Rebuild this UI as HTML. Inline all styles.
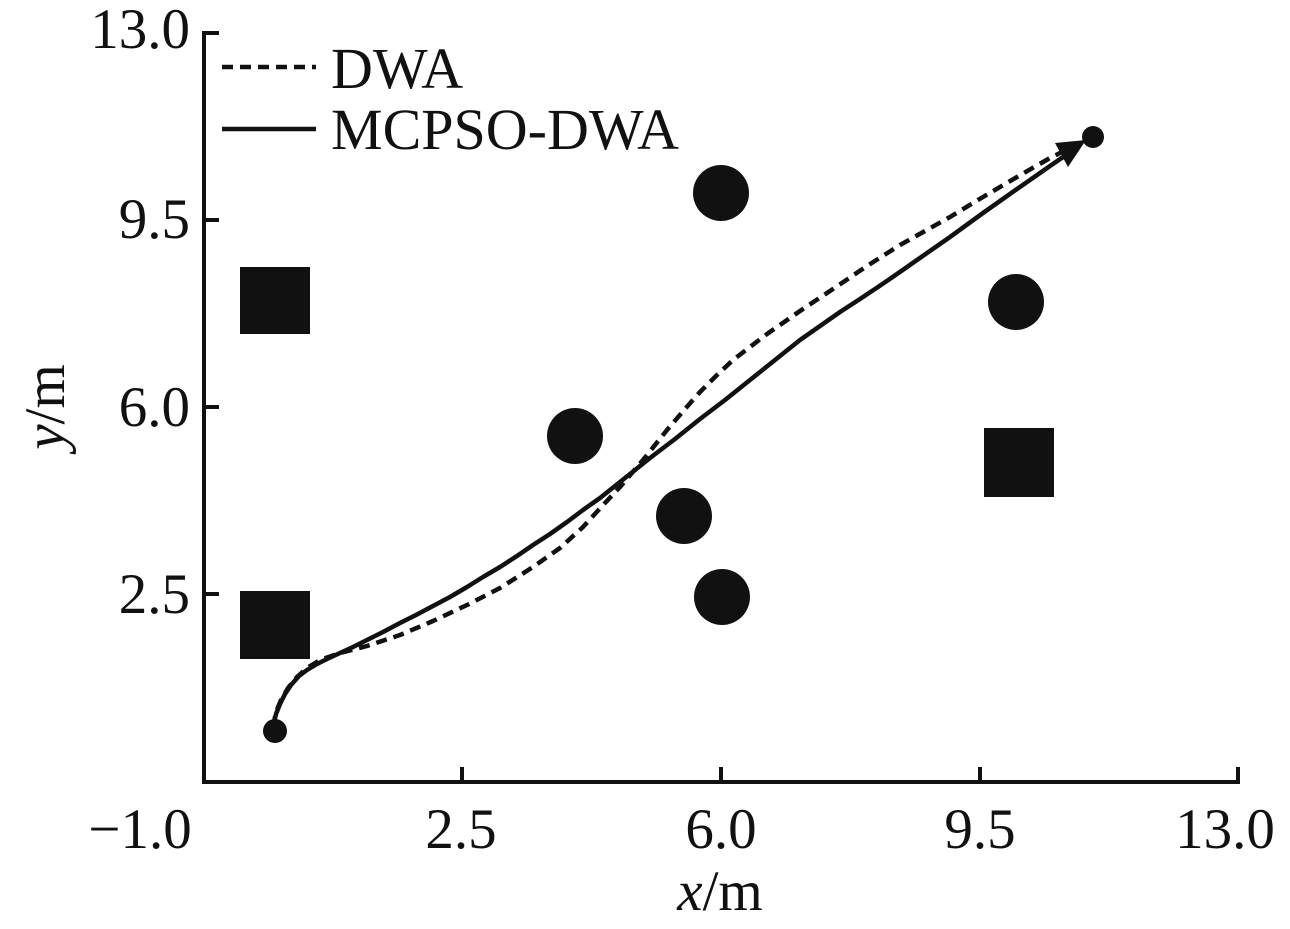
<!DOCTYPE html>
<html>
<head>
<meta charset="utf-8">
<style>
  html,body{margin:0;padding:0;background:#fff;}
  svg{display:block;}
  text{font-family:"Liberation Serif","Times New Roman",serif;fill:#111;}
</style>
</head>
<body>
<svg width="1290" height="929" viewBox="0 0 1290 929" xmlns="http://www.w3.org/2000/svg">
  <rect width="1290" height="929" fill="#fff"/>

  <!-- axes -->
  <g stroke="#111" stroke-width="4" fill="none" stroke-linecap="butt">
    <path d="M219,33 H204 V782 H1238 V767"/>
    <line x1="204" y1="220" x2="219" y2="220"/>
    <line x1="204" y1="407" x2="219" y2="407"/>
    <line x1="204" y1="594" x2="219" y2="594"/>
    <line x1="462" y1="782" x2="462" y2="767"/>
    <line x1="721" y1="782" x2="721" y2="767"/>
    <line x1="980" y1="782" x2="980" y2="767"/>
  </g>

  <!-- y tick labels -->
  <g font-size="57" text-anchor="end">
    <text x="190" y="48">13.0</text>
    <text x="190" y="238">9.5</text>
    <text x="190" y="426">6.0</text>
    <text x="190" y="613">2.5</text>
  </g>
  <!-- x tick labels -->
  <g font-size="57" text-anchor="middle">
    <text x="140" y="848">−1.0</text>
    <text x="461" y="848">2.5</text>
    <text x="721" y="848">6.0</text>
    <text x="980" y="848">9.5</text>
    <text x="1225" y="848">13.0</text>
  </g>

  <!-- axis titles -->
  <text x="720" y="910" font-size="57" text-anchor="middle"><tspan font-style="italic">x</tspan>/m</text>
  <text transform="translate(64,407) rotate(-90)" font-size="57" text-anchor="middle"><tspan font-style="italic">y</tspan>/m</text>

  <!-- legend -->
  <line x1="222" y1="67" x2="316" y2="67" stroke="#111" stroke-width="4.5" stroke-dasharray="11 7"/>
  <text x="331" y="88" font-size="58">DWA</text>
  <line x1="222" y1="129" x2="316" y2="129" stroke="#111" stroke-width="4.5"/>
  <text x="331" y="149" font-size="58">MCPSO-DWA</text>

  <!-- obstacles -->
  <g fill="#111">
    <rect x="240" y="267" width="70" height="67"/>
    <rect x="240" y="591" width="70" height="68"/>
    <rect x="984" y="428" width="70" height="69"/>
    <circle cx="721" cy="193" r="28"/>
    <circle cx="575" cy="436" r="28"/>
    <circle cx="684" cy="516" r="28"/>
    <circle cx="722" cy="597" r="28"/>
    <circle cx="1016" cy="302" r="28"/>
    <circle cx="275" cy="731" r="12"/>
    <circle cx="1093" cy="137" r="11"/>
  </g>

  <!-- DWA (dashed) -->
  <polyline fill="none" stroke="#111" stroke-width="4.5" stroke-dasharray="11 7" stroke-linejoin="round"
    points="273,727 276,712 281,700 288,688 297,677 307,668 320,660 340,653 367,646 400,635 433,621 467,605 500,588 533,567 560,548 583,527 605,503 620,487 643,460 667,430 685,409 700,392 717,375 733,360 767,334 800,311 833,289 867,266 900,245 950,217 983,197 1017,177 1050,158 1068,149"/>

  <!-- MCPSO-DWA (solid) -->
  <polyline fill="none" stroke="#111" stroke-width="4.5" stroke-linejoin="round"
    points="273,727 276,714 280,704 285,694 291,685 299,676 307,670 317,664 327,659 340,653 353,647 367,640 383,632 400,623 416,615 433,606 450,597 467,587 483,577 500,567 517,556 533,545 550,534 567,522 583,510 600,498 625,478 650,458 675,439 700,419 725,400 750,380 775,360 800,340 820,326 840,312 860,299 878,287 897,274 917,260 950,237 983,213 1017,189 1050,166 1066,155"/>

  <!-- arrow head -->
  <polygon points="1086,140 1055,143 1068,167" fill="#111"/>
</svg>
</body>
</html>
